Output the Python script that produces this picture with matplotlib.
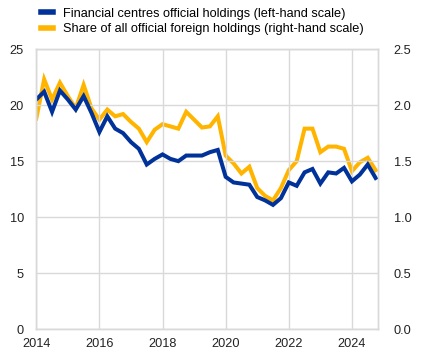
import matplotlib
matplotlib.use('Agg')
import matplotlib.pyplot as plt
import numpy as np

plt.rcParams['font.family'] = ['Liberation Sans', 'DejaVu Sans']

# quarterly observations, 2014 Q1 - 2024 Q4
quarters = np.arange(44) * 0.25 + 2014

# financial centres official holdings (left-hand scale)
centres = [20.5, 21.2, 19.4, 21.3, 20.5, 19.6, 20.8, 19.3,
           17.6, 19.0, 17.9, 17.5, 16.7, 16.1, 14.7, 15.2,
           15.6, 15.2, 15.0, 15.5, 15.5, 15.5, 15.8, 16.0,
           13.6, 13.1, 13.0, 12.9, 11.8, 11.5, 11.1, 11.7,
           13.1, 12.8, 14.0, 14.3, 13.0, 14.0, 13.9, 14.4,
           13.2, 13.8, 14.7, 13.5]

# share of all official foreign holdings (right-hand scale)
share = [1.88, 2.23, 2.05, 2.20, 2.08, 1.97, 2.18, 1.97,
         1.87, 1.96, 1.90, 1.92, 1.85, 1.79, 1.67, 1.78,
         1.83, 1.81, 1.79, 1.94, 1.87, 1.80, 1.81, 1.90,
         1.55, 1.48, 1.39, 1.45, 1.26, 1.19, 1.15, 1.26,
         1.42, 1.50, 1.79, 1.79, 1.58, 1.63, 1.63, 1.61,
         1.41, 1.49, 1.53, 1.42]

blue = '#003299'
yellow = '#ffb400'
grid_col = '#d9d9d9'

fig = plt.figure(figsize=(4.37, 3.57), dpi=100)
ax = fig.add_axes([0.083, 0.0776, 0.783, 0.785])
ax2 = ax.twinx()

ax2.plot(quarters, share, color=yellow, linewidth=2.9, solid_joinstyle='miter')
ax.plot(quarters, centres, color=blue, linewidth=2.9, solid_joinstyle='miter')
ax.set_zorder(ax2.get_zorder() + 1)
ax.patch.set_visible(False)

ax.set_xlim(2014, 2024.84)
ax.set_ylim(0, 25)
ax2.set_ylim(0, 2.5)
ax.set_xticks([2014, 2016, 2018, 2020, 2022, 2024])
ax.set_yticks([0, 5, 10, 15, 20, 25])
ax2.set_yticks([0, 0.5, 1.0, 1.5, 2.0, 2.5])
ax2.set_yticklabels(['0.0', '0.5', '1.0', '1.5', '2.0', '2.5'])

ax.grid(True, color=grid_col, linewidth=1)
ax.set_axisbelow(True)
for a in (ax, ax2):
    for s in a.spines.values():
        s.set_color(grid_col)
        s.set_linewidth(1)
    a.tick_params(length=0, labelsize=9.2, colors='#222222')
ax.tick_params(axis='y', pad=9)
ax.tick_params(axis='x', pad=6)
ax2.tick_params(axis='y', pad=11)

h1, = ax.plot([], [], color=blue, linewidth=4)
h2, = ax.plot([], [], color=yellow, linewidth=4)
fig.legend([h1, h2],
           ['Financial centres official holdings (left-hand scale)',
            'Share of all official foreign holdings (right-hand scale)'],
           loc='upper left', bbox_to_anchor=(0.082, 0.993), frameon=False,
           fontsize=9.2, handlelength=0.95, handletextpad=0.75,
           labelspacing=0.3, borderaxespad=0)

fig.savefig('out.png', dpi=100)
